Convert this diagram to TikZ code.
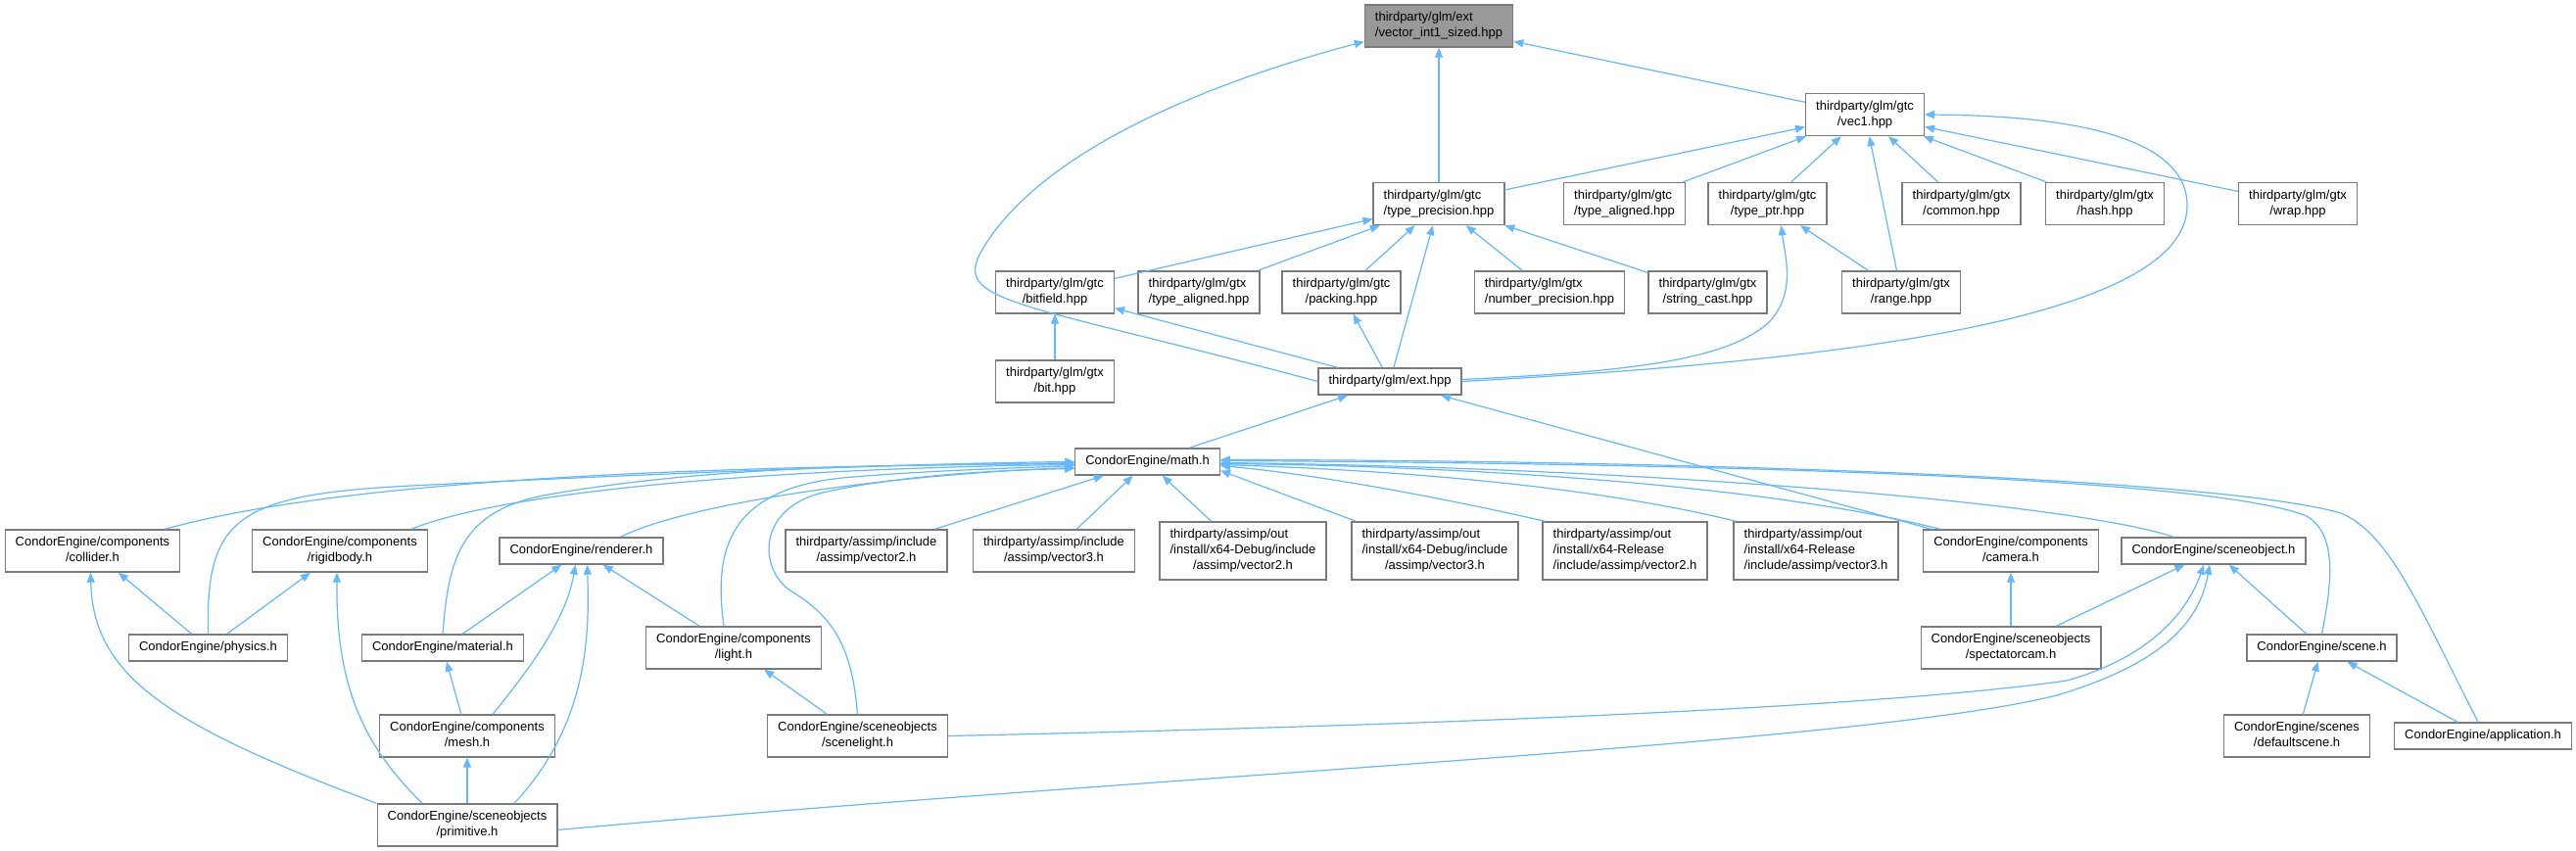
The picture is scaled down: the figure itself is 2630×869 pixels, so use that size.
\documentclass[tikz,border=0pt]{standalone}
\usepackage{fontspec}
\setmainfont{Liberation Sans}
\usetikzlibrary{arrows.meta}
\definecolor{incblue}{HTML}{63B8FF}
\definecolor{boxline}{HTML}{7A7A7A}
\definecolor{curfill}{HTML}{999999}
\newcommand{\twol}[2]{\begin{tabular}{@{}l@{}}#1\\\multicolumn{1}{@{}c@{}}{#2}\end{tabular}}
\newcommand{\threel}[3]{\begin{tabular}{@{}l@{}}#1\\#2\\\multicolumn{1}{@{}c@{}}{#3}\end{tabular}}
\tikzset{
  file/.style={draw=boxline, fill=white, line width=1.4pt, inner xsep=10.5pt, inner ysep=0pt,
    minimum height=27pt, font=\fontsize{13}{16}\selectfont},
  file2/.style={file, minimum height=43pt},
  file3/.style={file, minimum height=59pt},
  curfile/.style={file2, fill=curfill},
  inc/.style={-{Triangle[length=10pt,width=8pt]}, draw=incblue, line width=1.2pt},
}
\begin{document}
\begin{tikzpicture}[x=1pt, y=-1pt]
  \fill[white] (0,0) rectangle (2630,869);
  \useasboundingbox (0,0) rectangle (2630,869);
  % glm 头文件
  \node[curfile] (top) at (1469,26.5) {\twol{thirdparty/glm/ext}{/vector\_int1\_sized.hpp}};
  \node[file2] (vecone) at (1904,117) {\twol{thirdparty/glm/gtc}{/vec1.hpp}};
  \node[file2] (typeprec) at (1469,208) {\twol{thirdparty/glm/gtc}{/type\_precision.hpp}};
  \node[file2] (gtcalign) at (1658.5,208) {\twol{thirdparty/glm/gtc}{/type\_aligned.hpp}};
  \node[file2] (typeptr) at (1804.5,208) {\twol{thirdparty/glm/gtc}{/type\_ptr.hpp}};
  \node[file2] (gtxcommon) at (2002.5,208) {\twol{thirdparty/glm/gtx}{/common.hpp}};
  \node[file2] (gtxhash) at (2149,208) {\twol{thirdparty/glm/gtx}{/hash.hpp}};
  \node[file2] (gtxwrap) at (2346,208) {\twol{thirdparty/glm/gtx}{/wrap.hpp}};
  \node[file2] (bitfield) at (1077,298.5) {\twol{thirdparty/glm/gtc}{/bitfield.hpp}};
  \node[file2] (gtxalign) at (1224,298.5) {\twol{thirdparty/glm/gtx}{/type\_aligned.hpp}};
  \node[file2] (packing) at (1369.5,298.5) {\twol{thirdparty/glm/gtc}{/packing.hpp}};
  \node[file2] (numprec) at (1582,298.5) {\twol{thirdparty/glm/gtx}{/number\_precision.hpp}};
  \node[file2] (strcast) at (1743.5,298.5) {\twol{thirdparty/glm/gtx}{/string\_cast.hpp}};
  \node[file2] (gtxrange) at (1941,298.5) {\twol{thirdparty/glm/gtx}{/range.hpp}};
  \node[file2] (gtxbit) at (1077,389.5) {\twol{thirdparty/glm/gtx}{/bit.hpp}};
  \node[file] (ext) at (1419,389.5) {thirdparty/glm/ext.hpp};
  % CondorEngine 与 assimp
  \node[file] (math) at (1171.5,471.5) {CondorEngine/math.h};
  \node[file2] (collider) at (94.5,562.5) {\twol{CondorEngine/components}{/collider.h}};
  \node[file2] (rigidbody) at (347,562.5) {\twol{CondorEngine/components}{/rigidbody.h}};
  \node[file] (renderer) at (593.5,562.5) {CondorEngine/renderer.h};
  \node[file2] (incvtwo) at (884.5,562.5) {\twol{thirdparty/assimp/include}{/assimp/vector2.h}};
  \node[file2] (incvthree) at (1076,562.5) {\twol{thirdparty/assimp/include}{/assimp/vector3.h}};
  \node[file3] (dbgvtwo) at (1269,562.5) {\threel{thirdparty/assimp/out}{/install/x64-Debug/include}{/assimp/vector2.h}};
  \node[file3] (dbgvthree) at (1465,562.5) {\threel{thirdparty/assimp/out}{/install/x64-Debug/include}{/assimp/vector3.h}};
  \node[file3] (relvtwo) at (1659,562.5) {\threel{thirdparty/assimp/out}{/install/x64-Release}{/include/assimp/vector2.h}};
  \node[file3] (relvthree) at (1854,562.5) {\threel{thirdparty/assimp/out}{/install/x64-Release}{/include/assimp/vector3.h}};
  \node[file2] (camera) at (2053,562.5) {\twol{CondorEngine/components}{/camera.h}};
  \node[file] (sceneobj) at (2260,562.5) {CondorEngine/sceneobject.h};
  \node[file] (physics) at (212.5,661.5) {CondorEngine/physics.h};
  \node[file] (material) at (452,661.5) {CondorEngine/material.h};
  \node[file2] (light) at (749,661.5) {\twol{CondorEngine/components}{/light.h}};
  \node[file2] (spectcam) at (2053,661.5) {\twol{CondorEngine/sceneobjects}{/spectatorcam.h}};
  \node[file] (scene) at (2370.5,661.5) {CondorEngine/scene.h};
  \node[file2] (mesh) at (477,751.5) {\twol{CondorEngine/components}{/mesh.h}};
  \node[file2] (scenelight) at (875.5,751.5) {\twol{CondorEngine/sceneobjects}{/scenelight.h}};
  \node[file2] (defscene) at (2345,751.5) {\twol{CondorEngine/scenes}{/defaultscene.h}};
  \node[file] (application) at (2535,751.5) {CondorEngine/application.h};
  \node[file2] (primitive) at (477,842.5) {\twol{CondorEngine/sceneobjects}{/primitive.h}};
  % 直线依赖
  \foreach \a/\b in {typeprec/top, vecone/top, typeprec/vecone, gtcalign/vecone, typeptr/vecone,
    gtxrange/vecone, gtxcommon/vecone, gtxhash/vecone, gtxwrap/vecone, bitfield/typeprec,
    gtxalign/typeprec, packing/typeprec, ext/typeprec, numprec/typeprec, strcast/typeprec,
    gtxrange/typeptr, gtxbit/bitfield, ext/bitfield, ext/packing, math/ext, camera/ext,
    incvtwo/math, incvthree/math, dbgvtwo/math, physics/collider, physics/rigidbody,
    material/renderer, light/renderer, mesh/material, primitive/mesh, scenelight/light,
    spectcam/camera, spectcam/sceneobj, scene/sceneobj, defscene/scene, application/scene}{
    \draw[inc] (\a) -- (\b);
  }
  \draw[inc] (dbgvthree) -- ([yshift=-9pt]math.east);
  % 弯曲依赖：glm
  \draw[inc] (ext.west) .. controls (1050,310) and (975,310) .. (1000,260)
    .. controls (1060,150) and (1250,80) .. ([yshift=-16pt]top.west);
  \draw[inc] (ext.east) .. controls (1850,370) and (2233,330) .. (2233,210)
    .. controls (2233,130) and (2080,118) .. (vecone.east);
  \draw[inc] ([yshift=2pt]ext.east) .. controls (1650,380) and (1760,370) .. (1805,330)
    .. controls (1835,300) and (1822,260) .. ([xshift=14pt]typeptr.south);
  % 弯曲依赖：math.h 左侧
  \draw[inc] ([xshift=-16pt]collider.north east) .. controls (350,490) and (700,476) .. ([yshift=-2pt]math.west);
  \draw[inc] (physics.north) .. controls (210,530) and (240,505) .. (420,496)
    .. controls (700,482) and (950,473) .. (math.west);
  \draw[inc] ([xshift=-17pt]rigidbody.north east) .. controls (520,500) and (800,478) .. ([yshift=-3pt]math.west);
  \draw[inc] (material.north) .. controls (458,570) and (470,521) .. (560,505)
    .. controls (750,472) and (950,476) .. ([yshift=-1pt]math.west);
  \draw[inc] ([xshift=40pt]renderer.north) .. controls (700,515) and (900,485) .. ([yshift=-6pt]math.west);
  \draw[inc] ([xshift=-10pt]light.north) .. controls (728,560) and (745,500) .. (860,488)
    .. controls (950,480) and (1040,478) .. ([yshift=-4pt]math.west);
  \draw[inc] (scenelight.north) .. controls (870,660) and (850,630) .. (810,605)
    .. controls (775,585) and (770,520) .. (840,503)
    .. controls (920,485) and (1020,480) .. ([yshift=-7pt]math.west);
  % 弯曲依赖：math.h 右侧
  \draw[inc] ([xshift=3pt]relvtwo.north west) .. controls (1480,510) and (1350,485) .. ([yshift=-4pt]math.east);
  \draw[inc] ([xshift=3pt]relvthree.north west) .. controls (1620,495) and (1420,480) .. ([yshift=-3pt]math.east);
  \draw[inc] ([xshift=18pt]camera.north west) .. controls (1800,495) and (1500,476) .. ([yshift=-2pt]math.east);
  \draw[inc] ([xshift=-41pt]sceneobj.north) .. controls (2120,515) and (1700,478) .. ([yshift=-1pt]math.east);
  \draw[inc] (scene.north) .. controls (2382,590) and (2385,545) .. (2355,527)
    .. controls (2250,485) and (1700,473) .. ([yshift=1pt]math.east);
  \draw[inc] ([xshift=-5pt]application.north) .. controls (2470,620) and (2440,545) .. (2390,524)
    .. controls (2260,487) and (1700,470) .. ([yshift=2pt]math.east);
  % 弯曲依赖：下层
  \draw[inc] (primitive.north west) .. controls (170,740) and (95,690) .. ([xshift=-2pt]collider.south);
  \draw[inc] ([xshift=-46pt]primitive.north) .. controls (370,760) and (343,700) .. ([xshift=-3pt]rigidbody.south);
  \draw[inc] ([xshift=48pt]primitive.north) .. controls (600,740) and (602,650) .. ([xshift=6pt]renderer.south);
  \draw[inc] ([xshift=26pt]mesh.north) .. controls (560,660) and (580,620) .. ([xshift=-6pt]renderer.south);
  \draw[inc] (scenelight.east) .. controls (1400,742) and (1900,725) .. (2110,695)
    .. controls (2200,670) and (2235,620) .. ([xshift=-10pt]sceneobj.south);
  \draw[inc] ([yshift=-5pt]primitive.east) .. controls (1200,790) and (1900,760) .. (2100,710)
    .. controls (2200,680) and (2245,640) .. ([xshift=-4pt]sceneobj.south);
\end{tikzpicture}
\end{document}
